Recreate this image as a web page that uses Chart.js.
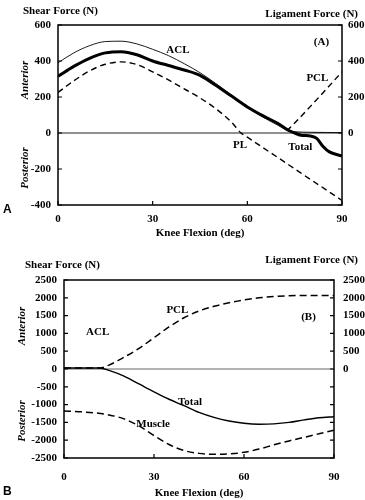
<!DOCTYPE html>
<html lang="en">
<head>
<meta charset="UTF-8">
<title>Knee shear and ligament forces</title>
<script src="https://cdn.jsdelivr.net/npm/chart.js"></script>
<style>
  body { margin: 0; background: #fff; }
  .panel { position: relative; width: 365px; height: 250px; }
</style>
</head>
<body>
<div class="panel"><canvas id="chartA" width="365" height="250"></canvas></div>
<div class="panel"><canvas id="chartB" width="365" height="250"></canvas></div>
<script>
// ---- panel A: values (deg, N)
const kneeTotalA = [0, 5, 10, 15, 20, 25, 30, 35, 40, 45, 50, 55, 60, 65, 70, 73, 75, 77, 80, 82, 84, 86, 88, 90];
const totalA = [315, 370, 415, 445, 452, 435, 400, 375, 350, 320, 265, 205, 145, 95, 50, 15, 0, -12, -17, -30, -75, -105, -118, -128];
const kneeAclA = [0, 5, 10, 15, 20, 25, 30, 35, 40, 45, 50, 55, 60, 65, 70, 73, 75, 80, 85, 90];
const aclA = [390, 445, 485, 508, 510, 495, 465, 430, 385, 335, 275, 210, 143, 88, 40, 12, 7, 4, 3, 2];
const kneePlA = [0, 5, 10, 15, 20, 25, 30, 35, 40, 45, 50, 55, 58, 60, 65, 70, 75, 80, 85, 90];
const plA = [225, 290, 345, 382, 395, 380, 340, 295, 245, 195, 135, 60, 0, -23, -82, -140, -199, -258, -316, -375];
const kneePclA = [72.5, 75, 80, 85, 90];
const pclA = [12, 55, 148, 243, 340];

// ---- panel B
const kneeB = [0, 5, 10, 12, 15, 20, 25, 30, 35, 40, 45, 50, 55, 60, 65, 70, 75, 80, 85, 90];
const pclB = [30, 30, 30, 30, 110, 330, 580, 880, 1180, 1440, 1630, 1760, 1860, 1940, 2000, 2035, 2055, 2065, 2065, 2065];
const totalB = [30, 30, 30, 30, -40, -200, -420, -640, -850, -1030, -1220, -1360, -1460, -1525, -1550, -1540, -1500, -1430, -1370, -1340];
const kneeMuscleB = [0, 5, 10, 15, 20, 25, 30, 35, 40, 45, 50, 55, 60, 65, 70, 75, 80, 85, 90];
const muscleB = [-1180, -1200, -1230, -1290, -1400, -1600, -1870, -2120, -2290, -2370, -2395, -2385, -2340, -2250, -2130, -2020, -1920, -1820, -1720];

const xTicks = [0, 30, 60, 90];

// series labels, placed in data coordinates
const labelsA = [
  { text: 'ACL', x: 38, y: 460 },
  { text: '(A)', x: 83.5, y: 505 },
  { text: 'PCL', x: 82.2, y: 302 },
  { text: 'PL', x: 57.7, y: -65 },
  { text: 'Total', x: 76.8, y: -80 }
];
const labelsB = [
  { text: 'ACL', x: 11.2, y: 1040 },
  { text: 'PCL', x: 37.8, y: 1640 },
  { text: '(B)', x: 81.5, y: 1460 },
  { text: 'Total', x: 42, y: -920 },
  { text: 'Muscle', x: 29.7, y: -1545 }
];

const serif = '"Liberation Serif", "Times New Roman", serif';
const boldFont = 'bold 11px ' + serif;

function pts(xs, ys) {
  return xs.map((x, i) => ({ x: x, y: ys[i] }));
}

// frame, inner ticks, zero line and all the loose text
const decor = {
  id: 'decor',
  beforeDatasetsDraw(chart) {
    const c = chart.config._decor;
    const ctx = chart.ctx, a = chart.chartArea;
    const y0 = chart.scales.y.getPixelForValue(0);
    ctx.save();
    ctx.strokeStyle = c.zeroColor;
    ctx.lineWidth = c.zeroWidth;
    ctx.beginPath();
    ctx.moveTo(a.left, y0);
    ctx.lineTo(a.right, y0);
    ctx.stroke();
    ctx.restore();
  },
  afterDraw(chart) {
    const c = chart.config._decor;
    const ctx = chart.ctx, a = chart.chartArea;
    const xs = chart.scales.x, ys = chart.scales.y;
    ctx.save();
    ctx.strokeStyle = '#000';
    ctx.lineWidth = 1.5;
    ctx.strokeRect(a.left, a.top, a.right - a.left, a.bottom - a.top);

    ctx.lineWidth = 1.2;
    ctx.beginPath();
    ys.ticks.forEach(t => {
      const p = ys.getPixelForValue(t.value);
      ctx.moveTo(a.left, p); ctx.lineTo(a.left + 4, p);
      ctx.moveTo(a.right, p); ctx.lineTo(a.right - 4, p);
    });
    xs.ticks.forEach(t => {
      const p = xs.getPixelForValue(t.value);
      ctx.moveTo(p, a.bottom); ctx.lineTo(p, a.bottom - 4);
    });
    ctx.stroke();

    ctx.fillStyle = '#000';
    ctx.textBaseline = 'middle';
    ctx.font = boldFont;
    ctx.textAlign = 'center';
    c.labels.forEach(l => {
      ctx.fillText(l.text, xs.getPixelForValue(l.x), ys.getPixelForValue(l.y));
    });

    ctx.textAlign = 'left';
    ctx.fillText('Shear Force (N)', c.shearX, c.shearY);
    ctx.textAlign = 'right';
    ctx.fillText('Ligament Force (N)', 358, c.ligY);

    ctx.font = 'italic bold 11px ' + serif;
    ctx.textAlign = 'center';
    [['Anterior', c.antY], ['Posterior', c.postY]].forEach(r => {
      ctx.save();
      ctx.translate(c.sideX, r[1]);
      ctx.rotate(-Math.PI / 2);
      ctx.fillText(r[0], 0, 0);
      ctx.restore();
    });

    ctx.font = 'bold 12px "Liberation Sans", Arial, sans-serif';
    ctx.textAlign = 'left';
    ctx.fillText(c.panel, 3, c.panelY);
    ctx.restore();
  }
};

function makeChart(id, cfg) {
  const tickFont = { family: serif, weight: 'bold', size: 11 };
  const noGrid = { display: false, drawTicks: false };
  const chart = new Chart(document.getElementById(id), {
    type: 'line',
    data: { datasets: cfg.datasets },
    options: {
      responsive: false,
      animation: false,
      layout: { padding: { top: cfg.top, left: 0, right: 0, bottom: 0 } },
      plugins: { legend: { display: false }, tooltip: { enabled: false } },
      elements: { point: { radius: 0 }, line: { cubicInterpolationMode: 'monotone', borderColor: '#000' } },
      scales: {
        x: {
          type: 'linear', min: 0, max: 90,
          afterBuildTicks: s => { s.ticks = xTicks.map(v => ({ value: v })); },
          grid: noGrid, border: { display: false },
          ticks: { color: '#000', font: tickFont, padding: cfg.xPad, maxRotation: 0, callback: v => String(v) },
          title: { display: true, text: 'Knee Flexion (deg)', color: '#000', font: { family: serif, weight: 'bold', size: 11 }, padding: { top: 0, bottom: cfg.titlePad } },
          afterFit: s => { s.height = cfg.xH; }
        },
        y: {
          position: 'left', min: cfg.min, max: cfg.max,
          grid: noGrid, border: { display: false },
          ticks: { stepSize: cfg.step, color: '#000', font: tickFont, padding: cfg.leftPad, callback: v => String(v) },
          afterFit: s => { s.width = cfg.leftW; }
        },
        y2: {
          position: 'right', min: cfg.min, max: cfg.max,
          grid: noGrid, border: { display: false },
          ticks: { stepSize: cfg.step, color: '#000', font: tickFont, padding: cfg.rightPad, callback: v => v >= 0 ? String(v) : '' },
          afterFit: s => { s.width = 365 - cfg.rightEdge; }
        }
      }
    },
    plugins: [decor]
  });
  return chart;
}

// hand the decor settings to each chart before its first draw
Chart.register({
  id: 'decorConfig',
  beforeInit(chart) {
    chart.config._decor = chart.canvas.id === 'chartA' ? decorA : decorB;
  }
});

const decorA = {
  labels: labelsA, zeroColor: '#222', zeroWidth: 1,
  shearX: 23, shearY: 11, ligY: 14, sideX: 25, antY: 80, postY: 168, panel: 'A', panelY: 210
};
const decorB = {
  labels: labelsB, zeroColor: '#999', zeroWidth: 1.5,
  shearX: 25, shearY: 15, ligY: 10, sideX: 22, antY: 76, postY: 171, panel: 'B', panelY: 242
};

makeChart('chartA', {
  min: -400, max: 600, step: 200, top: 25, leftW: 58, rightEdge: 342, xH: 45,
  xPad: 8, titlePad: 10, leftPad: 7, rightPad: 6,
  datasets: [
    { data: pts(kneeAclA, aclA), borderWidth: 0.9 },
    { data: pts(kneeTotalA, totalA), borderWidth: 3 },
    { data: pts(kneePlA, plA), borderWidth: 1.4, borderDash: [6, 4] },
    { data: pts(kneePclA, pclA), borderWidth: 1.4, borderDash: [6, 4] }
  ]
});

makeChart('chartB', {
  min: -2500, max: 2500, step: 500, top: 30, leftW: 64, rightEdge: 334, xH: 42,
  xPad: 13, titlePad: 0, leftPad: 7, rightPad: 9,
  datasets: [
    { data: pts(kneeB, pclB), borderWidth: 1.5, borderDash: [7, 4] },
    { data: pts(kneeB, totalB), borderWidth: 1.4 },
    { data: pts(kneeMuscleB, muscleB), borderWidth: 1.5, borderDash: [7, 4] }
  ]
});
</script>
</body>
</html>
